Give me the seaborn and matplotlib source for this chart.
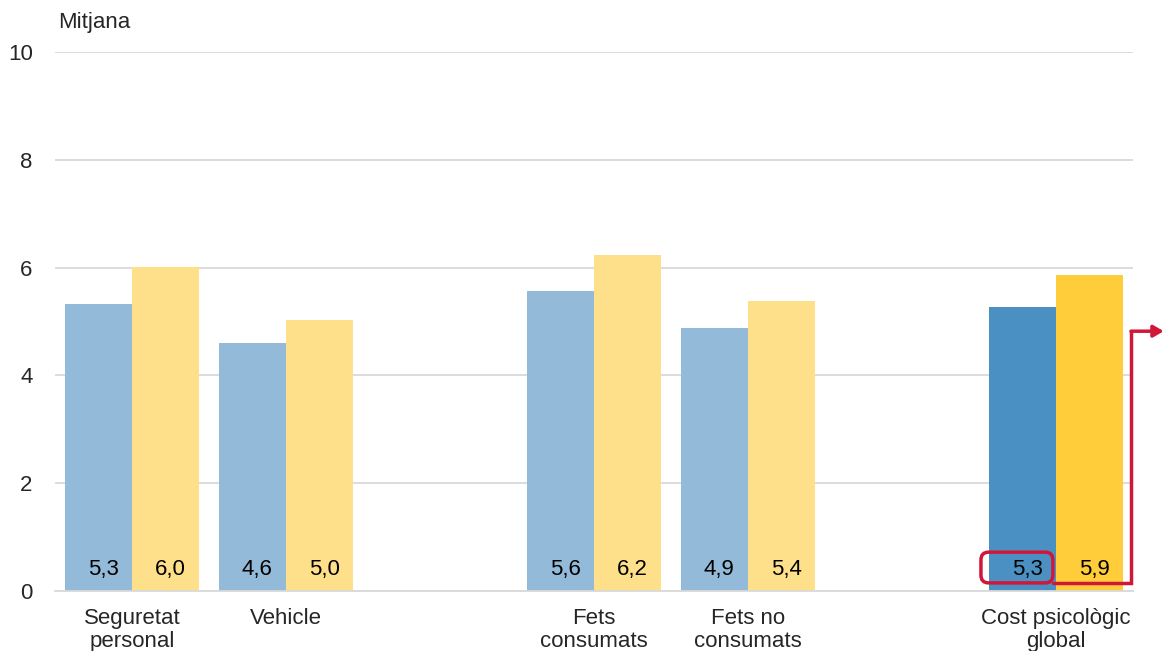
"""
Cost psicològic per tipus de fet: mitjanes de dues sèries.
"""

import pandas as pd
import matplotlib.pyplot as plt
import seaborn as sns
from matplotlib.patches import FancyBboxPatch

# dades llegides del gràfic
categories = ["Seguretat\npersonal", "Vehicle", "_buit1", "Fets\nconsumats",
              "Fets no\nconsumats", "_buit2", "Cost psicològic\nglobal"]
tick_labels = ["Seguretat\npersonal", "Vehicle", "", "Fets\nconsumats",
               "Fets no\nconsumats", "", "Cost psicològic\nglobal"]
groups = ["Seguretat\npersonal", "Vehicle", "Fets\nconsumats",
          "Fets no\nconsumats", "Cost psicològic\nglobal"]
serie_a = [5.33, 4.6, 5.57, 4.88, 5.27]
serie_b = [6.01, 5.03, 6.24, 5.38, 5.86]

light = ["#93bbd9", "#ffe08a"]
dark = ["#4a90c2", "#ffcc3a"]

df = pd.DataFrame({
    "categoria": groups * 2,
    "serie": ["A"] * len(groups) + ["B"] * len(groups),
    "valor": serie_a + serie_b,
})

sns.set_style("white")
plt.rcParams["font.family"] = ["Liberation Sans", "DejaVu Sans"]
FS = 16

fig = plt.figure(figsize=(11.62, 6.51), dpi=100)
ax = fig.add_axes([0.0473, 0.0922, 0.9277, 0.8279])

sns.barplot(data=df, x="categoria", y="valor", hue="serie", order=categories,
            hue_order=["A", "B"], palette=light, width=0.87, gap=0,
            saturation=1, legend=False, ax=ax)

# barres: enfosquir el grup global i posar etiquetes
for i, cont in enumerate(ax.containers):
    for bar, val, grp in zip(cont.patches, [serie_a, serie_b][i], groups):
        if grp == groups[-1]:
            bar.set_facecolor(dark[i])
        bar.set_edgecolor("none")
        ax.text(bar.get_x() + bar.get_width() / 2 + 0.03, 0.40,
                f"{val:.1f}".replace(".", ","), ha="center", va="center",
                fontsize=FS, color="black")

ax.set_xlim(-0.5, 6.5)
ax.set_ylim(0, 10)
ax.set_yticks(range(0, 11, 2))
ax.set_xticks(range(len(categories)))
ax.set_xticklabels(tick_labels, fontsize=FS, linespacing=1.15)
ax.tick_params(axis="y", labelsize=FS, pad=16, length=0)
ax.tick_params(axis="x", length=0, pad=12)
ax.set_xlabel("")
ax.set_ylabel("")
ax.yaxis.grid(True, color="#d9d9d9", linewidth=1.3)
ax.set_axisbelow(True)
for s in ["left", "right", "top"]:
    ax.spines[s].set_visible(False)
ax.spines["bottom"].set_color("#d9d9d9")
ax.spines["bottom"].set_linewidth(1.3)

fig.text(0.05, 0.965, "Mitjana", fontsize=FS, ha="left", va="center")

# requadre i fletxa vermella
red = "#d0173a"
box = FancyBboxPatch((5.513, 0.15), 0.467, 0.57,
                     boxstyle="round,pad=0,rounding_size=0.05",
                     mutation_aspect=1 / 0.35,
                     fill=False, edgecolor=red, linewidth=2.5, clip_on=False)
ax.add_patch(box)
ax.plot([5.98, 6.487, 6.487], [0.15, 0.15, 4.82], color=red, lw=2.5,
        clip_on=False, solid_joinstyle="miter")
ax.annotate("", xy=(6.7, 4.82), xytext=(6.487, 4.82),
            arrowprops=dict(arrowstyle="-|>,head_length=0.6,head_width=0.35",
                            color=red, lw=2.5, shrinkA=0, shrinkB=0),
            annotation_clip=False)

fig.savefig("out.png", dpi=100)
